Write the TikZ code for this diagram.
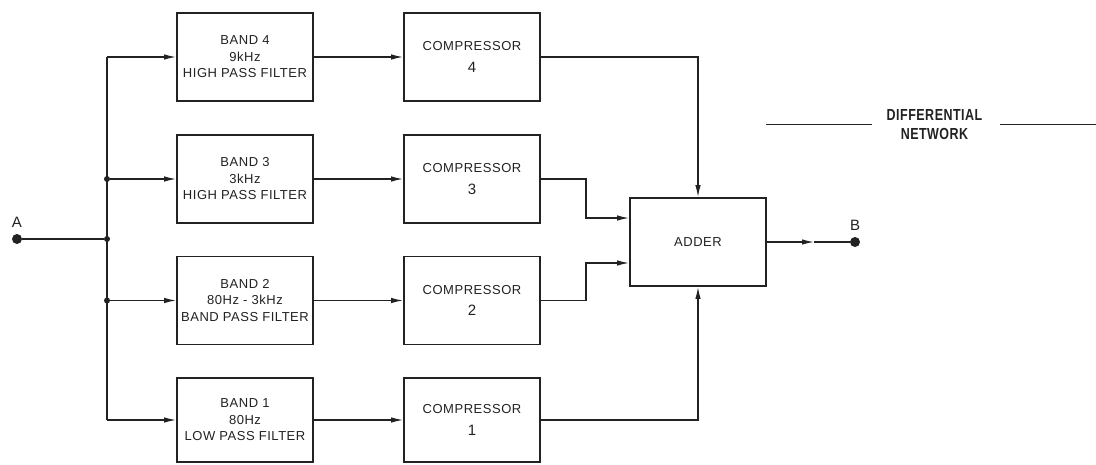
\documentclass[tikz,border=0pt]{standalone}
\usepackage{fontspec}
\setmainfont{Liberation Sans}
\newfontfamily\labfont[LetterSpace=4]{Liberation Sans}
\newfontfamily\dnfont[LetterSpace=4]{Liberation Sans Bold}
\usetikzlibrary{arrows.meta,positioning}
\definecolor{ink}{HTML}{222222}
\begin{document}
\begin{tikzpicture}[x=1pt,y=-1pt,
  blk/.style={draw=ink,line width=1.8pt,minimum width=136pt,minimum height=88pt,
    inner sep=0pt,align=center,text=ink,font=\labfont\fontsize{13}{16.5}\selectfont},
  comp/.style={blk},
  conn/.style={draw=ink,line width=1.3pt},
  arr/.style={conn,-{Latex[length=12pt,width=5.5pt]}},
  term/.style={circle,fill=ink,inner sep=0pt,minimum size=10pt},
  junc/.style={circle,fill=ink,inner sep=0pt,minimum size=6pt},
  lbl/.style={text=ink,font=\labfont\fontsize{15}{17}\selectfont,inner sep=0pt}]
\useasboundingbox[fill=white] (0,0) rectangle (1096,464);

% filters
\node[blk] (f4) at (245,57) {BAND 4\\9kHz\\HIGH PASS FILTER};
\node[blk] (f3) at (245,179) {BAND 3\\3kHz\\HIGH PASS FILTER};
\node[blk] (f2) at (245,300.5) {BAND 2\\80Hz - 3kHz\\BAND PASS FILTER};
\node[blk,minimum height=84pt] (f1) at (245,420) {BAND 1\\80Hz\\LOW PASS FILTER};

% compressors
\node[comp] (c4) at (472,57) {COMPRESSOR\\[5pt]{\fontsize{15}{16}\selectfont 4}};
\node[comp] (c3) at (472,179) {COMPRESSOR\\[5pt]{\fontsize{15}{16}\selectfont 3}};
\node[comp] (c2) at (472,300.5) {COMPRESSOR\\[5pt]{\fontsize{15}{16}\selectfont 2}};
\node[comp,minimum height=84pt] (c1) at (472,420) {COMPRESSOR\\[5pt]{\fontsize{15}{16}\selectfont 1}};

% adder
\node[blk] (adder) at (698,242) {ADDER};

% terminals
\node[term] (A) at (17,239) {};
\node[lbl] (Alab) at (17,222) {A};
\node[term] (B) at (855,242) {};
\node[lbl] (Blab) at (855,225) {B};

% bus
\coordinate (b4) at (107,57);
\coordinate (b1) at (107,420);
\node[junc] (j3) at (107,179) {};
\node[junc] (jA) at (107,239) {};
\node[junc] (j2) at (107,300.5) {};
\draw[conn] (b4) -- (b1);
\draw[conn] (A) -- (jA);
\draw[arr] (b4) -- (f4.west);
\draw[arr] (j3) -- (f3.west);
\draw[arr] (j2) -- (f2.west);
\draw[arr] (b1) -- (f1.west);

% filters to compressors
\draw[arr] (f4) -- (c4);
\draw[arr] (f3) -- (c3);
\draw[arr] (f2) -- (c2);
\draw[arr] (f1) -- (c1);

% compressors to adder
\draw[arr] (c4.east) -| (adder.north);
\draw[arr] (c3.east) -- ++(45,0) |- ([yshift=24pt]adder.west);
\draw[arr] (c2.east) -- ++(45,0) |- ([yshift=-21pt]adder.west);
\draw[arr] (c1.east) -| (adder.south);

% output
\coordinate (mid) at (814,242);
\draw[arr] (adder.east) -- (mid);
\draw[conn] (mid) -- (B);

% differential network
\node[text=ink,align=center,inner sep=0pt,font=\dnfont\fontsize{16}{19}\selectfont] (dn) at (934.5,125)
  {\scalebox{0.78}[1]{DIFFERENTIAL}\\ \scalebox{0.78}[1]{NETWORK}};
\coordinate (l1) at (766,124);
\coordinate (l2) at (872,124);
\coordinate (r1) at (1000,124);
\coordinate (r2) at (1096,124);
\draw[conn,line width=1pt] (l1) -- (l2);
\draw[conn,line width=1pt] (r1) -- (r2);
\end{tikzpicture}
\end{document}
